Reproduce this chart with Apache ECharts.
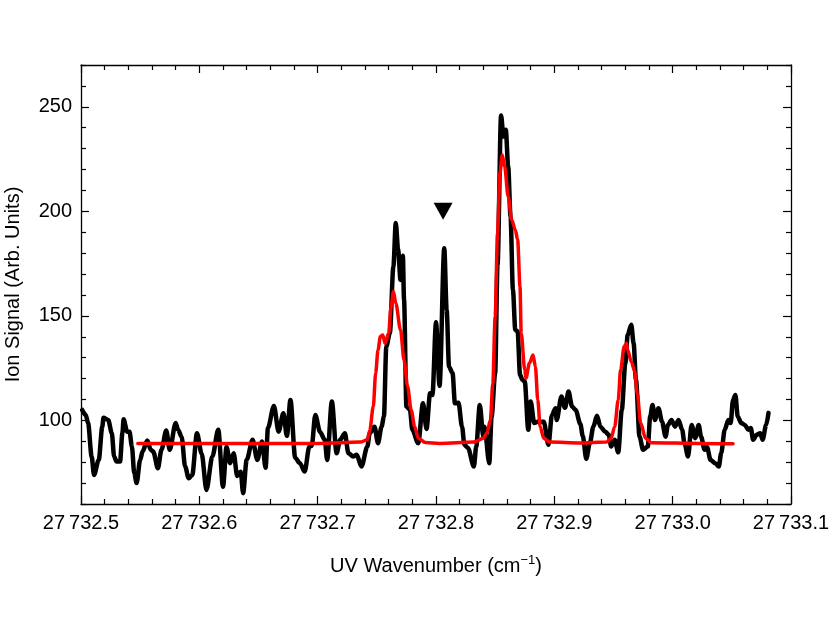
<!DOCTYPE html>
<html>
<head>
<meta charset="utf-8">
<script src="https://cdn.jsdelivr.net/npm/echarts@6/dist/echarts.min.js"></script>
<style>
html,body{margin:0;padding:0;background:#fff;}
#chart{width:830px;height:642px;}
</style>
</head>
<body>
<div id="chart"></div>
<script>
// ---- data ----
const signalX = [27732.501,27732.504,27732.506,27732.509,27732.511,27732.515,27732.518,27732.519,27732.523,27732.526,
27732.528,27732.530,27732.533,27732.535,27732.536,27732.539,27732.541,27732.543,27732.545,27732.547,
27732.550,27732.552,27732.556,27732.559,27732.561,27732.565,27732.568,27732.572,27732.575,27732.580,
27732.582,27732.585,27732.588,27732.591,27732.594,27732.598,27732.602,27732.606,27732.611,27732.616,
27732.620,27732.623,27732.626,27732.629,27732.632,27732.635,27732.637,27732.640,27732.645,27732.649,
27732.653,27732.656,27732.658,27732.663,27732.667,27732.671,27732.674,27732.677,27732.681,27732.685,
27732.689,27732.693,27732.695,27732.698,27732.702,27732.706,27732.708,27732.712,27732.716,27732.719,
27732.723,27732.726,27732.730,27732.733,27732.737,27732.742,27732.744,27732.748,27732.751,27732.754,
27732.756,27732.758,27732.761,27732.764,27732.766,27732.768,27732.770,27732.772,27732.773,27732.775,
27732.778,27732.780,27732.785,27732.789,27732.792,27732.795,27732.797,27732.800,27732.803,27732.807,
27732.809,27732.811,27732.814,27732.816,27732.819,27732.822,27732.824,27732.827,27732.832,27732.834,
27732.837,27732.840,27732.841,27732.845,27732.847,27732.850,27732.852,27732.855,27732.857,27732.859,
27732.861,27732.863,27732.865,27732.867,27732.869,27732.871,27732.873,27732.875,27732.878,27732.880,
27732.883,27732.886,27732.891,27732.895,27732.898,27732.901,27732.902,27732.906,27732.909,27732.912,
27732.915,27732.918,27732.922,27732.924,27732.927,27732.930,27732.933,27732.936,27732.939,27732.943,
27732.946,27732.948,27732.951,27732.954,27732.957,27732.960,27732.962,27732.965,27732.967,27732.969,
27732.972,27732.975,27732.979,27732.981,27732.983,27732.985,27732.988,27732.991,27732.994,27732.996,
27732.999,27733.002,27733.005,27733.008,27733.010,27733.013,27733.016,27733.019,27733.022,27733.024,
27733.027,27733.029,27733.032,27733.036,27733.039,27733.041,27733.044,27733.047,27733.049,27733.051,
27733.053,27733.055,27733.058,27733.061,27733.064,27733.066,27733.068,27733.071,27733.074,27733.076,27733.079,27733.081];
const signalY = [105.0,102.6,98.7,82.7,73.9,81.1,97.0,101.2,100.2,94.0,
82.7,80.3,80.3,94.0,100.5,94.6,94.6,87.5,74.7,70.0,
81.1,85.1,90.4,85.9,85.1,77.1,85.9,95.2,85.9,98.8,
95.5,92.2,77.9,72.3,73.9,93.9,84.0,66.7,82.7,95.5,
68.3,87.3,79.5,84.3,73.4,75.4,65.2,81.1,90.7,81.1,
89.9,77.3,96.4,106.9,94.6,103.4,92.6,109.8,82.1,79.5,
75.5,87.5,87.8,102.6,94.5,90.7,81.1,109.0,84.3,90.7,
93.9,84.3,82.7,83.5,77.9,87.5,93.9,97.0,89.1,97.0,
101.8,135.3,141.7,173.6,194.4,181.6,167.2,178.7,157.7,106.6,
105.0,95.5,89.1,108.2,95.9,113.0,112.2,146.9,116.5,182.4,
152.9,125.7,122.6,108.2,108.4,97.0,88.3,86.8,77.9,87.5,
107.4,92.2,97.0,79.5,101.8,122.6,174.4,245.9,235.8,239.0,
221.4,197.5,162.4,143.3,142.5,121.8,119.4,118.6,95.5,109.0,
98.8,99.3,99.4,88.3,102.6,105.8,100.2,111.4,106.0,113.8,
106.6,105.0,98.3,92.6,81.6,89.1,97.0,102.2,97.0,94.6,
93.1,87.5,90.7,84.7,105.0,127.4,140.9,145.7,136.9,119.4,
92.2,85.9,87.5,101.8,107.4,100.2,105.8,99.4,92.2,97.8,
100.2,97.0,100.2,95.5,89.1,82.7,97.8,91.5,97.8,92.2,
85.9,87.3,81.1,79.5,77.9,84.3,95.5,100.2,98.7,109.8,
112.2,101.8,98.7,97.8,95.5,96.4,90.7,93.1,93.9,90.7,97.8,103.6];

const fitX = [27732.548,27732.600,27732.700,27732.736,27732.742,27732.744,27732.747,27732.749,27732.751,27732.753,
27732.755,27732.757,27732.760,27732.762,27732.764,27732.766,27732.770,27732.773,27732.776,27732.779,
27732.782,27732.785,27732.791,27732.803,27732.832,27732.840,27732.843,27732.846,27732.848,27732.850,
27732.852,27732.854,27732.856,27732.858,27732.861,27732.864,27732.867,27732.869,27732.871,27732.872,
27732.875,27732.876,27732.879,27732.882,27732.884,27732.886,27732.888,27732.891,27732.896,27732.922,
27732.944,27732.948,27732.951,27732.954,27732.956,27732.959,27732.961,27732.962,27732.965,27732.968,
27732.970,27732.973,27732.977,27732.982,27733.023,27733.051];
const fitY = [89.0,89.0,89.0,89.6,90.7,95.2,106.6,122.6,133.7,140.1,
140.9,136.9,141.7,154.4,161.6,156.1,143.3,128.9,116.2,105.0,
97.0,91.5,89.4,89.0,89.6,91.5,93.9,100.2,117.8,149.7,
189.6,218.3,227.0,221.4,207.1,195.9,191.1,186.4,164.0,141.7,
124.2,120.2,127.4,131.3,125.7,109.8,97.0,91.5,89.6,89.2,
89.6,91.5,97.0,109.8,124.2,135.3,136.9,133.7,128.1,123.3,
113.0,98.7,91.5,89.3,89.0,88.8];

const markerX = [27732.806];
const markerY = [200];

const xMin = 27732.5, xMax = 27733.1;
const yMin = 60, yMax = 270;
const xMajorTicks = [27732.5,27732.6,27732.7,27732.8,27732.9,27733.0,27733.1];
const yMajorTicks = [100,150,200,250];
const xMinorStep = 0.02;
const yMinorStep = 10;

// ---- build ----
function minorTicks(min, max, step, majors) {
  const out = [];
  const n = Math.round((max - min) / step);
  for (let i = 0; i <= n; i++) {
    const v = +(min + i * step).toFixed(4);
    if (!majors.some(m => Math.abs(m - v) < step / 10)) out.push(v);
  }
  return out;
}
const xMinor = minorTicks(xMin, xMax, xMinorStep, xMajorTicks);
const yMinor = minorTicks(yMin, yMax, yMinorStep, yMajorTicks);

const FONT = "'Liberation Sans', Arial, Helvetica, sans-serif";
const lineStyle = { color: '#000', width: 1.3 };

function axis(dim, position, ticks, len, showLine, showLabel, extra) {
  const a = {
    type: 'value',
    position: position,
    min: dim === 'x' ? xMin : yMin,
    max: dim === 'x' ? xMax : yMax,
    splitLine: { show: false },
    axisLine: { show: showLine, onZero: false, lineStyle: lineStyle },
    axisTick: { show: true, inside: true, length: len, customValues: ticks, lineStyle: { color: '#000', width: 1.2 } },
    axisLabel: { show: showLabel, customValues: ticks, color: '#000', fontFamily: FONT, fontSize: 20, margin: 9,
      showMinLabel: true, showMaxLabel: true, hideOverlap: false },
    axisPointer: { show: false }
  };
  return Object.assign(a, extra || {});
}

const xLabelFmt = v => { const s = v.toFixed(1); return s.slice(0, 2) + '\u2009' + s.slice(2); };

const xAxes = [
  axis('x', 'bottom', xMajorTicks, 8, true, true, {
    name: 'UV Wavenumber (cm{sup|\u22121})',
    nameLocation: 'middle', nameGap: 50,
    nameTextStyle: { color: '#000', fontFamily: FONT, fontSize: 20, lineHeight: 24,
      rich: { sup: { fontSize: 13, fontFamily: FONT, color: '#000', verticalAlign: 'top', lineHeight: 14 } } }
  }),
  axis('x', 'bottom', xMinor, 5, false, false),
  axis('x', 'top', xMajorTicks, 8, true, false),
  axis('x', 'top', xMinor, 5, false, false)
];
xAxes[0].axisLabel.formatter = xLabelFmt;

const yAxes = [
  axis('y', 'left', yMajorTicks, 8, true, true, {
    name: 'Ion Signal (Arb. Units)', nameLocation: 'middle', nameGap: 58,
    nameTextStyle: { color: '#000', fontFamily: FONT, fontSize: 20 }
  }),
  axis('y', 'left', yMinor, 5, false, false),
  axis('y', 'right', yMajorTicks, 8, true, false),
  axis('y', 'right', yMinor, 5, false, false)
];

const signalData = signalX.map((x, i) => [x, signalY[i]]);
const fitData = fitX.map((x, i) => [x, fitY[i]]);
const markerData = markerX.map((x, i) => [x, markerY[i]]);

const chart = echarts.init(document.getElementById('chart'), null, { renderer: 'canvas' });
chart.setOption({
  animation: false,
  backgroundColor: '#fff',
  grid: { left: 81, right: 39, top: 65, bottom: 138, containLabel: false, outerBoundsMode: 'none' },
  xAxis: xAxes,
  yAxis: yAxes,
  series: [
    { type: 'line', data: signalData, showSymbol: false, smooth: 0.3, smoothMonotone: 'x',
      lineStyle: { color: '#000', width: 4.5, join: 'round', cap: 'round' }, z: 2, silent: true },
    { type: 'line', data: fitData, showSymbol: false, smooth: 0.3, smoothMonotone: 'x',
      lineStyle: { color: '#ff0000', width: 3.5, join: 'round', cap: 'round' }, z: 3, silent: true },
    { type: 'scatter', data: markerData, symbol: 'triangle', symbolRotate: 180, symbolSize: [19, 17],
      itemStyle: { color: '#000', opacity: 1 }, z: 4, silent: true }
  ]
});
</script>
</body>
</html>
